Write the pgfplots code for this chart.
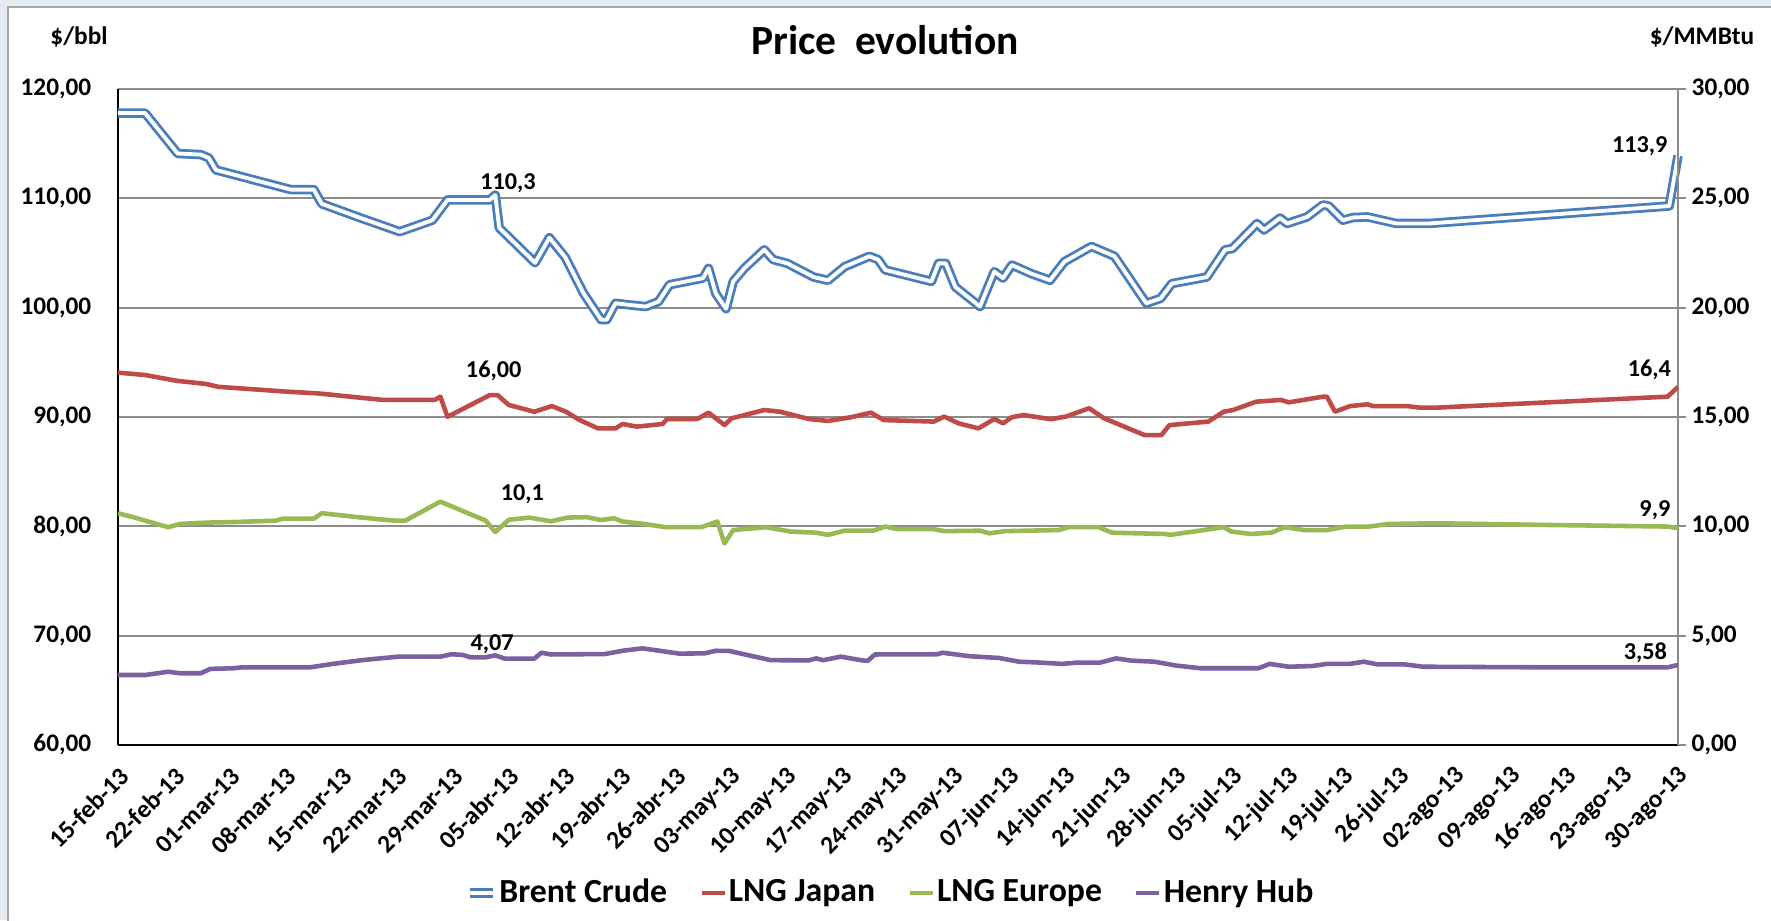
\documentclass[border=0pt]{standalone}
\usepackage{pgfplots}
\pgfplotsset{compat=1.18}
\usepackage{fontspec}
\setmainfont{Carlito}
\definecolor{brent}{HTML}{4A7EBB}
\definecolor{lngjp}{HTML}{BE4B48}
\definecolor{lngeu}{HTML}{98B954}
\definecolor{hhub}{HTML}{7D60A0}
\definecolor{gridc}{HTML}{8C8C8C}
\definecolor{bgblue}{HTML}{E4EBF3}

\pgfplotstableread{
d v
0 117.8
3.4 117.8
7.5 114.1
10.4 114.0
11.4 113.7
12.3 112.6
17.0 111.7
21.7 110.8
24.6 110.8
25.6 109.5
30.5 108.2
35.4 106.95
39.5 108.0
41.4 109.85
46.7 109.85
47.4 110.3
47.9 107.3
52.4 104.1
54.2 106.4
56.2 104.6
58.5 101.3
60.7 98.9
61.4 98.9
62.5 100.4
64.3 100.25
66.3 100.1
67.9 100.55
69.3 102.1
73.5 102.7
74.2 103.6
75.1 101.3
76.4 99.9
77.3 102.4
78.7 103.6
81.2 105.3
82.3 104.4
84.1 104.05
87.4 102.8
89.2 102.5
91.3 103.75
94.4 104.7
95.5 104.4
96.4 103.45
102.2 102.4
103.1 104.05
104.0 104.05
105.2 101.9
108.3 100.1
110.1 103.3
111.2 102.7
112.3 103.9
114.8 103.1
117.1 102.5
118.9 104.2
122.3 105.6
125.2 104.7
129.2 100.4
131.0 100.85
132.4 102.2
136.8 102.8
139.1 105.3
140.0 105.4
143.1 107.7
144.0 107.1
146.0 108.2
146.9 107.7
149.4 108.3
151.4 109.4
152.1 109.3
153.9 108.0
155.2 108.25
157.0 108.3
160.6 107.7
164.7 107.7
194.9 109.3
196 113.9
}\brent

\pgfplotstableread{
d v
0 17.03
3.4 16.92
7.3 16.66
11.1 16.51
12.6 16.38
21.2 16.16
25.1 16.08
33.3 15.78
39.8 15.78
40.5 15.93
41.4 15.01
46.7 16.0
47.7 16.0
49.1 15.55
52.3 15.24
54.5 15.5
56.3 15.24
58.0 14.86
60.3 14.48
62.5 14.48
63.4 14.68
65.2 14.56
68.4 14.68
69.0 14.91
72.8 14.91
74.2 15.2
76.2 14.63
77.1 14.94
81.2 15.32
83.2 15.24
86.8 14.91
89.2 14.82
92.1 14.99
94.6 15.2
96.2 14.86
102.5 14.79
103.8 15.02
105.6 14.71
108.1 14.48
110.1 14.91
111.2 14.71
112.3 14.99
113.8 15.09
117.2 14.9
119.1 15.02
122.0 15.4
123.9 14.94
129.0 14.17
131.1 14.17
132.1 14.63
137.0 14.79
138.9 15.24
140.1 15.32
143.0 15.70
146.1 15.78
147.1 15.67
151.4 15.93
151.9 15.93
152.9 15.24
154.8 15.50
157.0 15.58
157.7 15.5
162.0 15.5
163.5 15.43
165.8 15.43
194.7 15.93
196 16.38
}\lngjp

\pgfplotstableread{
d v
0 10.60
2 10.41
6.3 9.96
7.8 10.11
11.1 10.17
14.9 10.2
19.8 10.26
20.7 10.35
24.6 10.35
25.6 10.6
30.4 10.41
34.7 10.26
36.1 10.26
40.5 11.13
46.2 10.26
47.4 9.74
49.1 10.3
51.7 10.40
54.4 10.23
56.5 10.40
58.9 10.42
60.7 10.29
62.3 10.37
63.4 10.22
66.1 10.11
68.8 9.96
73.3 9.96
75.3 10.22
76.2 9.22
77.3 9.83
81.4 9.96
84.5 9.76
87.7 9.71
89.2 9.61
91.3 9.80
94.9 9.8
96.4 9.99
98.0 9.87
102.5 9.87
103.8 9.78
108.3 9.80
109.5 9.68
111.4 9.78
118.2 9.83
119.4 9.96
123.2 9.96
124.9 9.71
131.6 9.65
132.2 9.61
135.1 9.76
138.9 9.96
139.9 9.76
142.3 9.65
144.9 9.71
146.6 9.96
149.0 9.83
151.9 9.83
154.3 9.99
157.2 9.99
159.6 10.11
165.8 10.14
180.3 10.06
194.7 9.99
196 9.91
}\lngeu

\pgfplotstableread{
d v
0 3.20
3.4 3.20
6.3 3.35
7.8 3.28
10.4 3.28
11.6 3.48
14.5 3.51
15.5 3.55
24.1 3.55
27.0 3.71
30.9 3.89
35.2 4.04
40.5 4.04
41.9 4.15
43.3 4.12
44.3 4.01
46.2 4.01
47.4 4.10
48.6 3.95
52.3 3.95
53.2 4.22
54.4 4.14
61.2 4.16
63.4 4.31
65.9 4.42
68.8 4.27
70.5 4.18
73.7 4.19
75.1 4.31
76.8 4.30
82.0 3.88
86.8 3.87
87.7 3.96
88.6 3.88
90.8 4.04
93.5 3.87
94.2 3.85
95.1 4.14
102.9 4.15
103.6 4.22
107.0 4.06
110.7 3.98
113.2 3.81
115.8 3.77
118.6 3.71
120.6 3.77
123.4 3.77
125.4 3.96
127.3 3.86
130.2 3.81
133.0 3.63
136.0 3.51
143.3 3.51
144.7 3.71
147.1 3.58
150.0 3.61
151.9 3.71
154.8 3.71
156.5 3.81
158.2 3.69
161.6 3.69
164.0 3.58
180.3 3.55
194.7 3.55
196 3.66
}\hhub

\pgfplotsset{
  common/.style={
    at={(1.18cm,1.75cm)}, anchor=south west,
    scale only axis, width=15.60cm, height=6.56cm,
    xmin=0, xmax=196,
    ticklabel style={font=\fontsize{7.2}{8.5}\selectfont\bfseries},
    /pgf/number format/assume math mode=true,
    yticklabel style={/pgf/number format/fixed, /pgf/number format/fixed zerofill,
      /pgf/number format/precision=2, /pgf/number format/use comma},
  },
  brentstyle/.style={draw=brent, line width=0.8pt, double=white, double distance=1.1pt, line join=round},
}

\begin{document}
\begin{tikzpicture}
\useasboundingbox (0,0) rectangle (17.71,9.20);
\fill[bgblue] (0,0) rectangle (17.71,9.20);
\fill[white, draw=gray!70] (0.08,-0.2) rectangle (17.9,9.13);

\begin{axis}[common,
  ymin=60, ymax=120, ytick={60,70,...,120},
  xtick={0,7,...,196},
  xticklabels={15-feb-13,22-feb-13,01-mar-13,08-mar-13,15-mar-13,22-mar-13,29-mar-13,05-abr-13,12-abr-13,19-abr-13,26-abr-13,03-may-13,10-may-13,17-may-13,24-may-13,31-may-13,07-jun-13,14-jun-13,21-jun-13,28-jun-13,05-jul-13,12-jul-13,19-jul-13,26-jul-13,02-ago-13,09-ago-13,16-ago-13,23-ago-13,30-ago-13},
  xticklabel style={xshift=0.07cm, yshift=-0.27cm, rotate=45, anchor=east, inner sep=0pt},
  yticklabel style={inner sep=0pt, xshift=-0.26cm},
  axis x line*=bottom, axis y line*=left,
  x axis line style={-, black, line width=0.8pt},
  y axis line style={-, black, line width=0.8pt},
  major tick length=0pt,
  ymajorgrids, major grid style={gridc, line width=0.5pt},
  clip=false,
]
\addplot[brentstyle] table[x=d, y=v] {\brent};
\begin{scope}[font=\fontsize{6.9}{8}\selectfont\bfseries]
\node at (axis cs:49.0,111.4) {110,3};
\node at (axis cs:191.2,114.8) {113,9};
\node at (axis cs:47.2,94.2) {16,00};
\node at (axis cs:192.4,94.3) {16,4};
\node at (axis cs:50.8,82.9) {10,1};
\node at (axis cs:193.1,81.5) {9,9};
\node at (axis cs:47.0,69.2) {4,07};
\node at (axis cs:191.9,68.4) {3,58};
\end{scope}
\end{axis}

\begin{axis}[common,
  ymin=0, ymax=30, ytick={0,5,...,30},
  axis x line=none, axis y line*=right,
  y axis line style={-, gridc, line width=0.6pt},
  tick align=outside, major tick length=0.08cm,
  ytick style={gridc, line width=0.5pt},
  yticklabel style={inner sep=0pt, xshift=0.05cm},
  legend columns=4,
  legend style={at={(0.495,-0.2256)}, anchor=center, draw=none, fill=none,
    font=\fontsize{9.6}{11}\selectfont\bfseries, nodes={inner sep=0.6pt},
    /tikz/every even column/.append style={column sep=0.30cm}},
  legend image code/.code={\draw[#1] (0cm,0cm) -- (0.23cm,0cm);},
]
\addlegendimage{brentstyle}
\addlegendentry{Brent Crude}
\addplot[lngjp, line width=1.3pt, line join=round] table[x=d, y=v] {\lngjp};
\addlegendentry{LNG Japan}
\addplot[lngeu, line width=1.3pt, line join=round] table[x=d, y=v] {\lngeu};
\addlegendentry{LNG Europe}
\addplot[hhub, line width=1.3pt, line join=round] table[x=d, y=v] {\hhub};
\addlegendentry{Henry Hub}
\end{axis}

\node[font=\fontsize{11.8}{14}\selectfont\bfseries] at (8.85,8.80) {Price\ \ evolution};
\node[font=\fontsize{7.2}{8.5}\selectfont\bfseries] at (0.79,8.83) {\$/bbl};
\node[font=\fontsize{7.2}{8.5}\selectfont\bfseries] at (17.02,8.83) {\$/MMBtu};
\end{tikzpicture}
\end{document}
